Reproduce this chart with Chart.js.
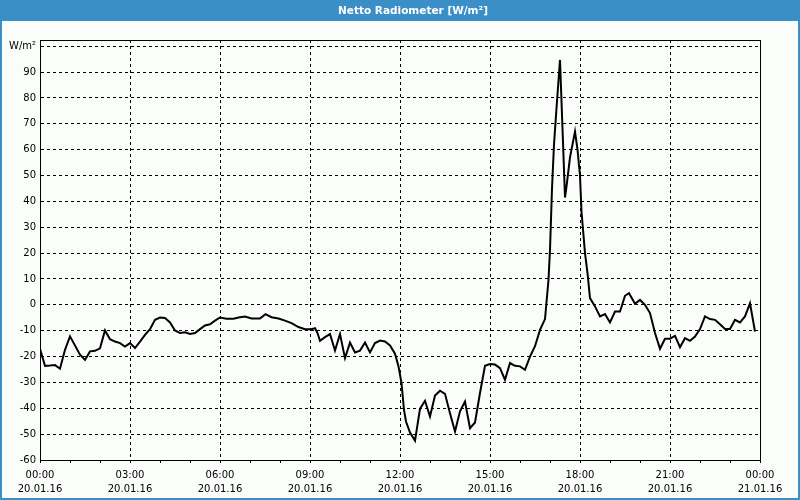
<!DOCTYPE html>
<html>
<head>
<meta charset="utf-8">
<script src="https://cdn.jsdelivr.net/npm/chart.js@4"></script>
<style>
html,body{margin:0;padding:0;background:#fbfdfb;}
#wrap{width:800px;height:500px;position:relative;}
canvas{display:block;}
</style>
</head>
<body>
<div id="wrap"><canvas id="c" width="800" height="500"></canvas></div>
<script>
// ---- data ----
const titleText = 'Netto Radiometer [W/m²]';
const yUnitLabel = 'W/m²';
const yTicks = [-60, -50, -40, -30, -20, -10, 0, 10, 20, 30, 40, 50, 60, 70, 80, 90, 100];
const xTickTimes = ['00:00', '03:00', '06:00', '09:00', '12:00', '15:00', '18:00', '21:00', '00:00'];
const xTickDates = ['20.01.16', '20.01.16', '20.01.16', '20.01.16', '20.01.16', '20.01.16', '20.01.16', '20.01.16', '21.01.16'];

// minutes since 20.01.16 00:00
const times = [
  0, 10, 20, 30, 40, 50, 60, 80, 90, 100, 110, 120, 130, 140, 150, 160, 170, 180, 190, 200,
  210, 220, 230, 240, 250, 260, 270, 280, 290, 300, 310, 320, 330, 340, 350, 360, 373, 387, 397, 410,
  423, 440, 451, 463, 477, 490, 503, 517, 530, 543, 550, 555, 560, 570, 580, 590, 600, 610, 620, 630,
  640, 650, 660, 670, 680, 690, 700, 710, 717, 723, 728, 732, 740, 750, 760, 770, 780, 790, 800, 810,
  820, 830, 840, 850, 860, 870, 880, 890, 900, 910, 920, 930, 940, 950, 960, 970, 980, 990, 1000, 1010,
  1017, 1020, 1024, 1028, 1033, 1040, 1050, 1053, 1060, 1070, 1075, 1080, 1083, 1090, 1095, 1100, 1110, 1120, 1130, 1140,
  1150, 1160, 1170, 1178, 1190, 1200, 1210, 1220, 1230, 1240, 1250, 1260, 1270, 1280, 1290, 1300, 1310, 1320, 1330, 1340,
  1350, 1360, 1370, 1380, 1390, 1400, 1410, 1420, 1430
];
const values = [
  -17, -23.6, -23.5, -23.3, -24.7, -17.4, -12.2, -19.3, -21.3, -18, -17.8, -16.8, -9.9, -13.3, -14.2, -14.8, -16.1, -14.8, -16.7, -14.2,
  -11.6, -9.4, -5.8, -4.9, -5.1, -6.8, -9.9, -10.9, -10.6, -11.3, -10.9, -9.4, -8, -7.5, -6.1, -4.9, -5.4, -5.4, -4.9, -4.5,
  -5.3, -5.3, -3.6, -4.8, -5.3, -6.1, -7.1, -8.6, -9.4, -9.4, -9.0, -10.9, -13.9, -12.5, -11.3, -17.7, -11.3, -20.6, -14.6, -18.4,
  -17.7, -14.6, -18.4, -14.8, -13.8, -14.2, -15.7, -18.9, -23.8, -30.3, -40.6, -45.1, -49.4, -52.5, -40.2, -37.1, -43.2, -35.1, -33.2, -34.4,
  -41.9, -49.0, -41.2, -37.4, -47.7, -45.5, -34.1, -23.6, -22.9, -23.1, -24.5, -29.0, -22.5, -23.6, -23.8, -25.1, -20.0, -16, -9.7, -5.5,
  9.7, 21.3, 45, 62, 76, 94.7, 41.5, 45.7, 57, 67, 60, 50, 36, 20, 12.3, 2.6, -0.6, -4.5, -3.6, -6.8,
  -2.6, -2.6, 3.5, 4.5, 0.4, 1.9, 0, -3.2, -10.9, -17, -13.1, -13.1, -12, -16.4, -12.9, -13.9, -12.3, -9.4, -4.5, -5.5,
  -5.8, -7.5, -9.3, -9.3, -5.8, -6.8, -4.5, 0.6, -10.3
];

const points = times.map((t, i) => ({ x: t, y: values[i] }));

const BLUE = '#3b8fc7';
const BG = '#fbfdfb';
const FONT = '"DejaVu Sans", Verdana, sans-serif';

const framePlugin = {
  id: 'frame',
  beforeDraw(chart) {
    const ctx = chart.ctx;
    const w = chart.width, h = chart.height;
    ctx.save();
    ctx.fillStyle = BG;
    ctx.fillRect(0, 0, w, h);
    ctx.fillStyle = BLUE;
    ctx.fillRect(0, 0, w, 21);
    ctx.fillRect(0, 0, 2, h);
    ctx.fillRect(w - 2, 0, 2, h);
    ctx.fillRect(0, h - 2, w, 2);
    ctx.fillStyle = '#ffffff';
    ctx.font = 'bold 10.5px ' + FONT;
    ctx.textAlign = 'center';
    ctx.textBaseline = 'middle';
    ctx.fillText(titleText, 413, 11);
    ctx.restore();
  },
  afterDraw(chart) {
    const ctx = chart.ctx;
    const a = chart.chartArea;
    ctx.save();
    ctx.strokeStyle = '#000';
    ctx.lineWidth = 1;
    ctx.beginPath();
    ctx.moveTo(a.left, Math.round(a.top) + 0.5);
    ctx.lineTo(Math.round(a.right) + 1, Math.round(a.top) + 0.5);
    ctx.moveTo(Math.round(a.right) + 0.5, a.top);
    ctx.lineTo(Math.round(a.right) + 0.5, a.bottom);
    ctx.stroke();
    ctx.restore();
  }
};

new Chart(document.getElementById('c'), {
  type: 'line',
  data: {
    datasets: [{
      data: points,
      borderColor: '#000',
      borderWidth: 2,
      pointRadius: 0,
      tension: 0,
      fill: false
    }]
  },
  options: {
    responsive: false,
    devicePixelRatio: 1,
    animation: false,
    layout: { padding: { top: 40, right: 40, left: 0, bottom: 0 } },
    plugins: {
      legend: { display: false },
      title: { display: false },
      tooltip: { enabled: false }
    },
    scales: {
      x: {
        type: 'linear',
        min: 0,
        max: 1440,
        afterFit(scale) { scale.height = 40; },
        ticks: {
          stepSize: 60,
          autoSkip: false,
          maxRotation: 0,
          minRotation: 0,
          padding: 5,
          color: '#000',
          font: { family: FONT, size: 10, lineHeight: 1.45 },
          callback(v) {
            if (v % 180 === 0) {
              const i = v / 180;
              return [xTickTimes[i], xTickDates[i]];
            }
            return '';
          }
        },
        grid: {
          color: (c) => (c.tick && c.tick.value % 180 === 0) ? '#000' : 'rgba(0,0,0,0)',
          tickColor: '#000',
          tickLength: 3,
          lineWidth: 1,
          drawTicks: true
        },
        border: { display: true, color: '#000', width: 1, dash: [3, 3] }
      },
      y: {
        type: 'linear',
        min: -60,
        max: 102.4,
        afterFit(scale) { scale.width = 40; },
        afterBuildTicks(scale) { scale.ticks = yTicks.map(v => ({ value: v })); },
        ticks: {
          padding: 4,
          color: '#000',
          font: { family: FONT, size: 10 },
          callback(v) { return v === 100 ? yUnitLabel : String(v); }
        },
        grid: {
          color: '#000',
          lineWidth: 1,
          drawTicks: false
        },
        border: { display: true, color: '#000', width: 1, dash: [3, 3] }
      }
    }
  },
  plugins: [framePlugin]
});
</script>
</body>
</html>
